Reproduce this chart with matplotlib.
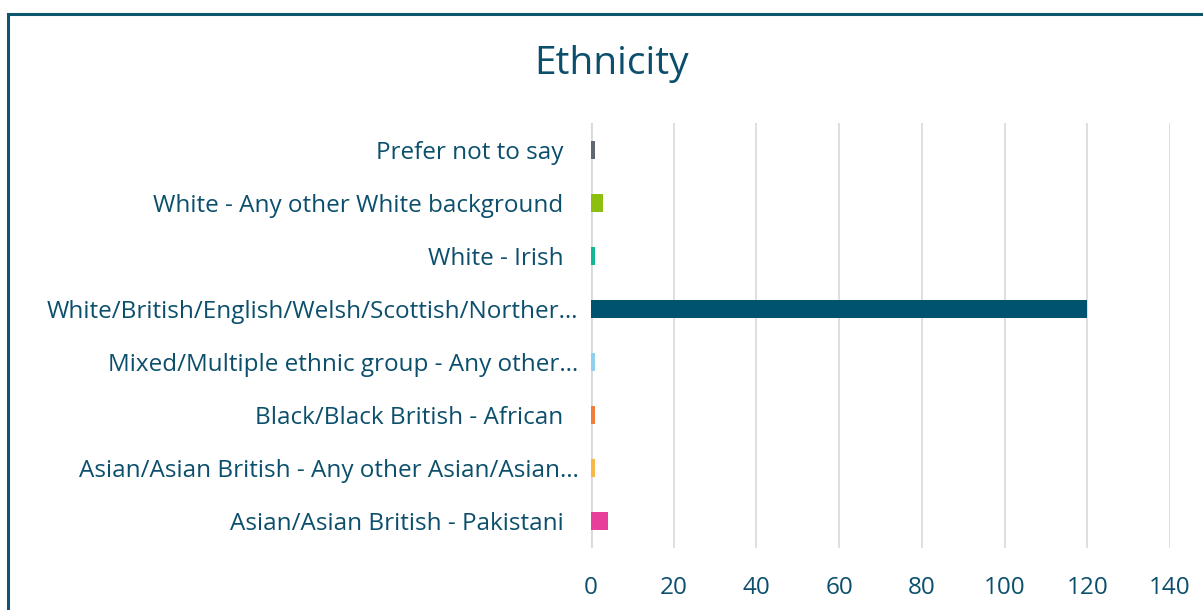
import matplotlib
matplotlib.use("Agg")
from matplotlib import pyplot as plt
from matplotlib.patches import Rectangle
from matplotlib.transforms import ScaledTranslation

# categories listed bottom to top
categories = [
    "Asian/Asian British - Pakistani",
    "Asian/Asian British - Any other Asian/Asian…",
    "Black/Black British - African",
    "Mixed/Multiple ethnic group - Any other…",
    "White/British/English/Welsh/Scottish/Norther…",
    "White - Irish",
    "White - Any other White background",
    "Prefer not to say",
]
counts = [4, 1, 1, 1, 120, 1, 3, 1]
bar_colors = ["#e8409a", "#f7b945", "#f07f3a", "#8fd0ee",
              "#00536e", "#12b894", "#8dbf10", "#5f6770"]
xticks = [0, 20, 40, 60, 80, 100, 120, 140]

text_col = "#0b4f6c"
plt.rcParams["font.family"] = ["Open Sans", "DejaVu Sans"]

fig = plt.figure(figsize=(12.03, 6.10), dpi=100)
ax = fig.add_axes([591 / 1203, 1 - 548 / 610, (1170 - 591) / 1203, (548 - 123) / 610])

y = list(range(len(categories)))
ax.barh(y, counts, height=0.34, color=bar_colors, zorder=3)

ax.set_xlim(0, 140)
ax.set_ylim(-0.5, len(categories) - 0.5)
ax.set_xticks(xticks)
ax.set_xticklabels([str(v) for v in xticks], fontsize=17.5, color=text_col)
ax.set_yticks(y)
ax.set_yticklabels(categories, fontsize=17.5, color=text_col)
ax.tick_params(axis="both", length=0)
ax.tick_params(axis="x", pad=20)
ax.tick_params(axis="y", pad=9)
# labels that are not cut short sit a bit further left
for lab in ax.get_yticklabels():
    if not lab.get_text().endswith("…"):
        lab.set_transform(lab.get_transform() + ScaledTranslation(-0.15, 0, fig.dpi_scale_trans))
ax.grid(axis="x", color="#d9d9d9", linewidth=1.2, zorder=0)
for s in ax.spines.values():
    s.set_visible(False)
ax.axvline(0, color="#d9d9d9", linewidth=2, zorder=2)

fig.text(612 / 1203, 1 - 64 / 610, "Ethnicity", ha="center", va="center",
         fontsize=28, color=text_col)

# outer frame (runs off the right and bottom edge)
fig.patches.append(Rectangle((8 / 1203, -0.05), 1.1, 1 - 14 / 610 + 0.05,
                             transform=fig.transFigure, fill=False,
                             edgecolor="#0c5670", linewidth=2.2))

fig.savefig("out.png", dpi=100)
